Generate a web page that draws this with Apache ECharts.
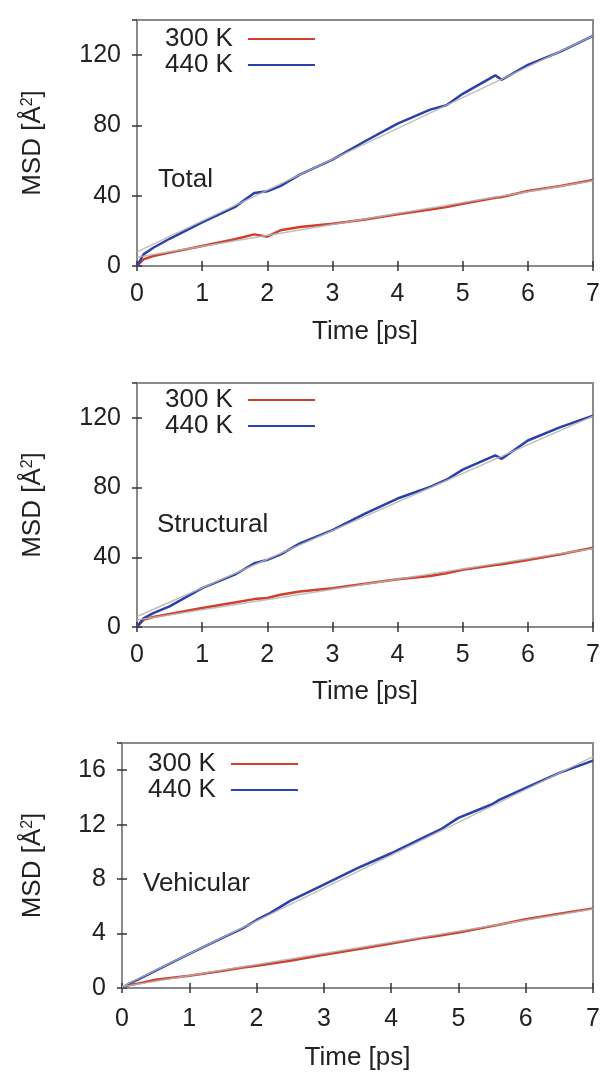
<!DOCTYPE html>
<html>
<head>
<meta charset="utf-8">
<script src="https://cdn.jsdelivr.net/npm/echarts@6/dist/echarts.min.js"></script>
<style>html,body{margin:0;padding:0;background:#fff;}#c{width:603px;height:1072px;}</style>
</head>
<body>
<div id="c"></div>
<script>
// ---- data ----
const TIME = [0, 0.1, 0.25, 0.5, 1, 1.5, 1.8, 2, 2.2, 2.5, 3, 3.5, 4, 4.5, 4.75, 5, 5.5, 5.6, 6, 6.5, 7];
const TOTAL_300 = [0, 3.8, 5.7, 7.6, 11.4, 15.2, 18, 16.7, 20.3, 22.2, 24, 26.5, 29.4, 32.2, 33.5, 35.4, 38.9, 39.3, 42.7, 45.5, 48.9];
const TOTAL_440 = [0, 6.6, 10.4, 15.5, 24.8, 33.5, 41.5, 42.5, 45.5, 52, 60.5, 71, 81, 89, 91.5, 98, 108.5, 106, 114.5, 122, 131];
const STRUCT_300 = [0, 4.2, 5.7, 7.4, 10.9, 14, 16, 16.6, 18.5, 20.4, 22.3, 24.8, 27.4, 29.3, 30.8, 32.8, 35.6, 36, 38.5, 41.7, 45.5];
const STRUCT_440 = [0, 5, 8, 11.8, 22.3, 30, 36.6, 38.5, 41.5, 48, 55.6, 65, 73.7, 80.4, 84.5, 90.3, 98.5, 96.5, 107, 114.7, 121.3];
const VEH_300 = [0, 0.2, 0.34, 0.6, 0.9, 1.27, 1.5, 1.63, 1.78, 2.0, 2.44, 2.85, 3.27, 3.7, 3.88, 4.07, 4.56, 4.65, 5.05, 5.46, 5.85];
const VEH_440 = [0, 0.3, 0.65, 1.27, 2.5, 3.7, 4.4, 5, 5.5, 6.4, 7.6, 8.8, 9.9, 11.1, 11.7, 12.5, 13.5, 13.8, 14.7, 15.8, 16.7];
// linear fits (gray lines), endpoints
const FIT_T = [0, 7];
const FIT_TOTAL_300 = [5, 48.5];
const FIT_TOTAL_440 = [8, 131];
const FIT_STRUCT_300 = [4, 45];
const FIT_STRUCT_440 = [6, 121];
const FIT_VEH_300 = [0.1, 5.8];
const FIT_VEH_440 = [0.1, 17.0];
const PANEL_LABELS = ['Total', 'Structural', 'Vehicular'];
const SERIES_NAMES = ['300 K', '440 K'];
const Y_MAX = [140, 140, 18];
const Y_INTERVAL = [40, 40, 4];

// ---- layout / style ----
const FONT = 'Liberation Sans, Arial, Helvetica, sans-serif';
const RED = '#d0402c', BLUE = '#2c40aa', GRAY = '#b4b4b4';
const grids = [
  {left: 137, top: 20, width: 456, height: 246},
  {left: 137, top: 383, width: 456, height: 244},
  {left: 122, top: 743, width: 471, height: 247}
];
const yNameGap = [91, 91, 76];
const xNameGap = [53, 52, 57];
const xLabelMargin = [16, 16, 19];
const legendPos = [{left: 160, top: 21}, {left: 160, top: 382}, {left: 143, top: 746}];
const labelPos = [{x: 158, y: 182}, {x: 157, y: 527}, {x: 143, y: 886}];

function pairs(xs, ys) { return xs.map((x, i) => [x, ys[i]]); }

const panelData = [
  [TOTAL_300, TOTAL_440, FIT_TOTAL_300, FIT_TOTAL_440],
  [STRUCT_300, STRUCT_440, FIT_STRUCT_300, FIT_STRUCT_440],
  [VEH_300, VEH_440, FIT_VEH_300, FIT_VEH_440]
];

const xAxis = [], yAxis = [], series = [], legend = [], graphic = [];
grids.forEach((g, i) => {
  g.show = true; g.borderColor = '#8a8a8a'; g.borderWidth = 2; g.containLabel = false;
  const tickStyle = {show: true, inside: true, length: 5, lineStyle: {color: '#333', width: 1.5}};
  xAxis.push({
    type: 'value', gridIndex: i, min: 0, max: 7, interval: 1,
    name: 'Time [ps]', nameLocation: 'middle', nameGap: xNameGap[i],
    nameTextStyle: {fontFamily: FONT, fontSize: 26, color: '#222'},
    axisLine: {show: false}, axisTick: tickStyle, splitLine: {show: false},
    axisLabel: {fontFamily: FONT, fontSize: 25, color: '#222', margin: xLabelMargin[i]}
  });
  xAxis.push({
    type: 'value', gridIndex: i, min: 0, max: 7, interval: 1, position: 'top',
    axisLine: {show: false}, axisTick: tickStyle, splitLine: {show: false}, axisLabel: {show: false}
  });
  yAxis.push({
    type: 'value', gridIndex: i, min: 0, max: Y_MAX[i], interval: Y_INTERVAL[i],
    name: 'MSD [Å{sup|2}]', nameLocation: 'middle', nameGap: yNameGap[i], nameRotate: 90,
    nameTextStyle: {fontFamily: FONT, fontSize: 26, color: '#222',
      rich: {sup: {fontFamily: FONT, fontSize: 16, color: '#222', verticalAlign: 'top', lineHeight: 26}}},
    axisLine: {show: false}, axisTick: tickStyle, splitLine: {show: false},
    axisLabel: {fontFamily: FONT, fontSize: 25, color: '#222', margin: 16, showMaxLabel: false}
  });
  yAxis.push({
    type: 'value', gridIndex: i, min: 0, max: Y_MAX[i], interval: Y_INTERVAL[i], position: 'right',
    axisLine: {show: false}, axisTick: tickStyle, splitLine: {show: false}, axisLabel: {show: false}
  });
  const d = panelData[i];
  [[SERIES_NAMES[0], d[0], RED], [SERIES_NAMES[1], d[1], BLUE]].forEach(([nm, vals, col]) => {
    series.push({
      type: 'line', name: nm, xAxisIndex: 2 * i, yAxisIndex: 2 * i,
      data: pairs(TIME, vals), showSymbol: false, symbol: 'none',
      lineStyle: {color: col, width: 2.5}, itemStyle: {color: col}, z: 2, animation: false
    });
  });
  [d[2], d[3]].forEach((vals, k) => {
    series.push({
      type: 'line', name: 'fit' + i + k, xAxisIndex: 2 * i, yAxisIndex: 2 * i,
      data: pairs(FIT_T, vals), showSymbol: false, symbol: 'none',
      lineStyle: {color: GRAY, width: 1.5, opacity: 0.85}, z: 3, animation: false, silent: true
    });
  });
  legend.push({
    data: SERIES_NAMES.slice(), orient: 'vertical', align: 'right',
    left: legendPos[i].left, top: legendPos[i].top, itemGap: 0,
    icon: 'rect', itemWidth: 67, itemHeight: 2, selectedMode: false,
    textStyle: {fontFamily: FONT, fontSize: 26, color: '#222', padding: [0, 10, 0, 0]}
  });
  graphic.push({
    type: 'text', left: labelPos[i].x, top: labelPos[i].y - 15,
    style: {text: PANEL_LABELS[i], font: '26px ' + FONT, fill: '#222'}
  });
});

const chart = echarts.init(document.getElementById('c'), null, {renderer: 'canvas'});
chart.setOption({
  backgroundColor: '#fff', animation: false,
  grid: grids, xAxis, yAxis, series, legend, graphic
});
</script>
</body>
</html>
